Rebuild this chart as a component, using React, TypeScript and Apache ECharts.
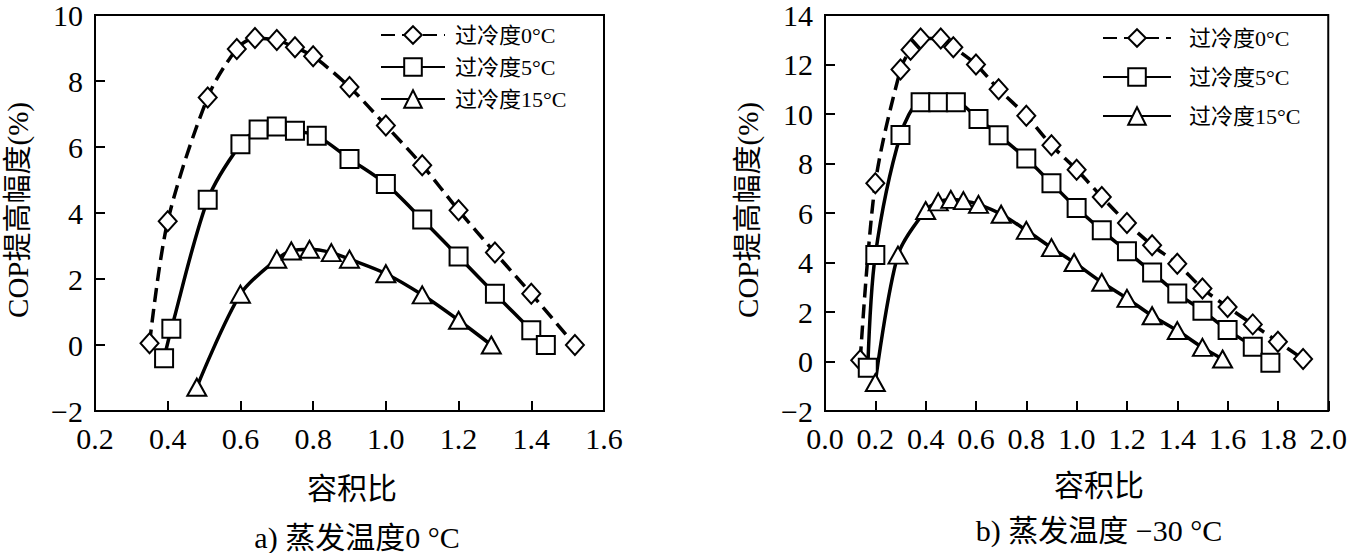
import React, { useEffect, useRef } from 'react';
import * as echarts from 'echarts';

// ---- data ----
const SERIES_NAMES = ['过冷度0°C', '过冷度5°C', '过冷度15°C'];

// a) evaporating temperature 0 °C
const a0x = [0.35, 0.40, 0.51, 0.59, 0.64, 0.70, 0.75, 0.80, 0.90, 1.00, 1.10, 1.20, 1.30, 1.40, 1.52];
const a0y = [0.05, 3.75, 7.5, 8.97, 9.3, 9.24, 9.02, 8.75, 7.82, 6.65, 5.45, 4.08, 2.8, 1.55, 0];
const a5x = [0.39, 0.41, 0.51, 0.60, 0.65, 0.70, 0.75, 0.81, 0.90, 1.00, 1.10, 1.20, 1.30, 1.40, 1.44];
const a5y = [-0.4, 0.49, 4.4, 6.08, 6.53, 6.62, 6.49, 6.34, 5.64, 4.88, 3.8, 2.68, 1.55, 0.45, 0];
const a15x = [0.48, 0.60, 0.70, 0.74, 0.79, 0.85, 0.90, 1.00, 1.10, 1.20, 1.29];
const a15y = [-1.28, 1.54, 2.6, 2.85, 2.9, 2.8, 2.6, 2.16, 1.52, 0.75, 0];

// b) evaporating temperature -30 °C
const b0x = [0.14, 0.20, 0.30, 0.34, 0.38, 0.46, 0.51, 0.60, 0.69, 0.80, 0.90, 1.00, 1.10, 1.20, 1.30, 1.40, 1.50, 1.60, 1.70, 1.80, 1.90];
const b0y = [0.05, 7.2, 11.8, 12.6, 13.05, 13.05, 12.7, 12.0, 11.0, 9.93, 8.74, 7.75, 6.65, 5.6, 4.7, 3.95, 2.95, 2.2, 1.5, 0.8, 0.1];
const b5x = [0.17, 0.20, 0.30, 0.38, 0.45, 0.52, 0.61, 0.69, 0.80, 0.90, 1.00, 1.10, 1.20, 1.30, 1.40, 1.50, 1.60, 1.70, 1.77];
const b5y = [-0.25, 4.3, 9.15, 10.47, 10.47, 10.47, 9.8, 9.14, 8.2, 7.2, 6.2, 5.3, 4.45, 3.6, 2.75, 2.05, 1.27, 0.6, -0.05];
const b15x = [0.20, 0.29, 0.40, 0.45, 0.50, 0.55, 0.61, 0.70, 0.80, 0.90, 0.99, 1.10, 1.20, 1.30, 1.40, 1.50, 1.58];
const b15y = [-0.85, 4.3, 6.1, 6.45, 6.55, 6.5, 6.35, 5.95, 5.3, 4.6, 4.0, 3.2, 2.55, 1.85, 1.25, 0.57, 0.1];

const yNameText = 'COP提高幅度(%)';
const xNameText = '容积比';
const captionA = 'a) 蒸发温度0 °C';
const captionB = 'b) 蒸发温度 −30 °C';

const FONT = "'Liberation Serif', 'Times New Roman', 'Noto Sans CJK SC', serif";

function mk(name: string, xs: number[], ys: number[], symbol: string, size: any, dashed: boolean, idx: number) {
  return {
    type: 'line',
    name,
    xAxisIndex: idx,
    yAxisIndex: idx,
    data: xs.map((x, i) => [x, ys[i]]),
    smooth: 0.3,
    symbol,
    symbolSize: size,
    showSymbol: true,
    lineStyle: { color: '#000', width: 3.5, type: dashed ? [14, 7] : 'solid' },
    itemStyle: { color: '#fff', borderColor: '#000', borderWidth: 2 },
    emphasis: { disabled: true },
  };
}

const yFmt = (v: number) => (v < 0 ? '−' + Math.abs(v) : String(v));
const xFmt = (v: number) => v.toFixed(1);

function axisCommon() {
  return {
    axisLine: { show: true, onZero: false, lineStyle: { color: '#000', width: 2 } },
    axisTick: { show: true, inside: true, length: 10, lineStyle: { color: '#000', width: 2 } },
    splitLine: { show: false },
    axisLabel: { color: '#000', fontFamily: FONT, fontSize: 30, margin: 12 },
  };
}

export default function App() {
  const ref = useRef<HTMLDivElement>(null);
  useEffect(() => {
    const chart = echarts.init(ref.current!, null, { renderer: 'svg' });
    const legendBase = {
      orient: 'vertical',
      itemWidth: 64,
      itemHeight: 22,
      data: SERIES_NAMES,
      selectedMode: false,
      textStyle: { color: '#000', fontFamily: FONT, fontSize: 22, padding: [0, 0, 0, 5] },
    };
    const option: any = {
      animation: false,
      backgroundColor: '#fff',
      grid: [
        { left: 95, top: 9, width: 509, height: 402, show: true, borderColor: '#000', borderWidth: 2, backgroundColor: 'transparent' },
        { left: 825, top: 10, width: 508, height: 401, show: true, borderColor: '#000', borderWidth: 2, backgroundColor: 'transparent' },
      ],
      xAxis: [
        { ...axisCommon(), type: 'value', gridIndex: 0, min: 0.2, max: 1.6, interval: 0.2, axisLabel: { ...axisCommon().axisLabel, formatter: xFmt } },
        { ...axisCommon(), type: 'value', gridIndex: 1, min: 0, max: 2.0, interval: 0.2, axisLabel: { ...axisCommon().axisLabel, formatter: xFmt } },
      ],
      yAxis: [
        { ...axisCommon(), type: 'value', gridIndex: 0, min: -2, max: 10, interval: 2, axisLabel: { ...axisCommon().axisLabel, formatter: yFmt } },
        { ...axisCommon(), type: 'value', gridIndex: 1, min: -2, max: 14, interval: 2, axisLabel: { ...axisCommon().axisLabel, formatter: yFmt } },
      ],
      legend: [
        { ...legendBase, left: 375, top: 19, itemGap: 10 },
        { ...legendBase, left: 1097, top: 22, itemGap: 17, itemWidth: 68, textStyle: { ...legendBase.textStyle, padding: [0, 0, 0, 13] } },
      ],
      series: [
        mk(SERIES_NAMES[0], a0x, a0y, 'diamond', [18, 20], true, 0),
        mk(SERIES_NAMES[1], a5x, a5y, 'rect', 18, false, 0),
        mk(SERIES_NAMES[2], a15x, a15y, 'triangle', [19, 17], false, 0),
        mk(SERIES_NAMES[0], b0x, b0y, 'diamond', [18, 20], true, 1),
        mk(SERIES_NAMES[1], b5x, b5y, 'rect', 18, false, 1),
        mk(SERIES_NAMES[2], b15x, b15y, 'triangle', [19, 17], false, 1),
      ],
      graphic: [
        { type: 'text', x: 18, y: 210, rotation: Math.PI / 2, style: { text: yNameText, fill: '#000', font: `29px ${FONT}`, align: 'center', verticalAlign: 'middle' } },
        { type: 'text', x: 748, y: 210, rotation: Math.PI / 2, style: { text: yNameText, fill: '#000', font: `29px ${FONT}`, align: 'center', verticalAlign: 'middle' } },
        { type: 'text', x: 352, y: 488, style: { text: xNameText, fill: '#000', font: `30px ${FONT}`, align: 'center', verticalAlign: 'middle' } },
        { type: 'text', x: 1099, y: 485, style: { text: xNameText, fill: '#000', font: `30px ${FONT}`, align: 'center', verticalAlign: 'middle' } },
        { type: 'text', x: 357, y: 537, style: { text: captionA, fill: '#000', font: `30px ${FONT}`, align: 'center', verticalAlign: 'middle' } },
        { type: 'text', x: 1099, y: 530, style: { text: captionB, fill: '#000', font: `30px ${FONT}`, align: 'center', verticalAlign: 'middle' } },
      ],
    };
    chart.setOption(option);
    return () => chart.dispose();
  }, []);
  return (
    <div
      ref={ref}
      style={{ position: 'absolute', left: 0, top: 0, width: 1350, height: 553, background: '#fff' }}
    />
  );
}
